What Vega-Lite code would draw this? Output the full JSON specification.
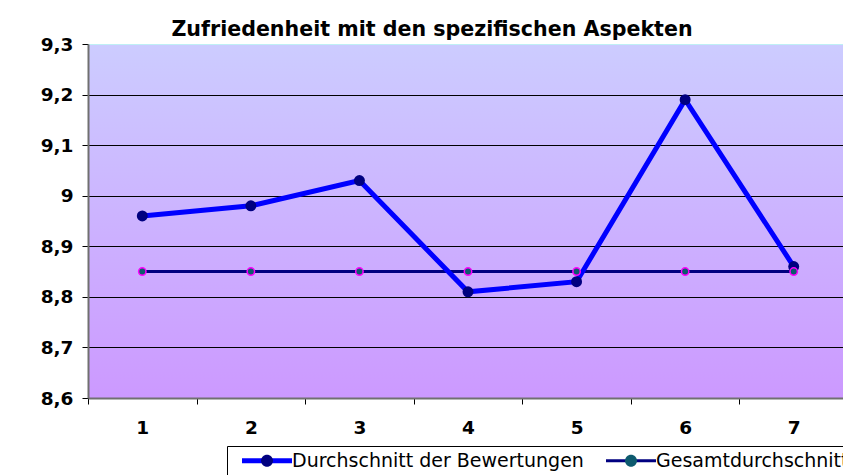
{
  "$schema": "https://vega.github.io/schema/vega-lite/v6.json",
  "width": 760,
  "height": 354,
  "autosize": {"type": "none"},
  "padding": {"left": 88, "top": 44, "right": 0, "bottom": 80},
  "background": "white",
  "title": {
    "text": "Zufriedenheit mit den spezifischen Aspekten",
    "font": "DejaVu Sans",
    "fontSize": 20.6,
    "fontWeight": "bold",
    "color": "black",
    "anchor": "middle",
    "dx": -36,
    "dy": 29,
    "offset": 7,
    "baseline": "alphabetic"
  },
  "config": {
    "view": {
      "fill": {
        "gradient": "linear",
        "x1": 0, "y1": 0, "x2": 0, "y2": 1,
        "stops": [
          {"offset": 0, "color": "#ccccff"},
          {"offset": 1, "color": "#cc99ff"}
        ]
      },
      "stroke": "#bfeff5"
    }
  },
  "data": {
    "values": [
      {"aspekt": 1, "reihe": "Durchschnitt der Bewertungen", "wert": 8.96},
      {"aspekt": 2, "reihe": "Durchschnitt der Bewertungen", "wert": 8.98},
      {"aspekt": 3, "reihe": "Durchschnitt der Bewertungen", "wert": 9.03},
      {"aspekt": 4, "reihe": "Durchschnitt der Bewertungen", "wert": 8.81},
      {"aspekt": 5, "reihe": "Durchschnitt der Bewertungen", "wert": 8.83},
      {"aspekt": 6, "reihe": "Durchschnitt der Bewertungen", "wert": 9.19},
      {"aspekt": 7, "reihe": "Durchschnitt der Bewertungen", "wert": 8.86},
      {"aspekt": 1, "reihe": "Gesamtdurchschnitt", "wert": 8.85},
      {"aspekt": 2, "reihe": "Gesamtdurchschnitt", "wert": 8.85},
      {"aspekt": 3, "reihe": "Gesamtdurchschnitt", "wert": 8.85},
      {"aspekt": 4, "reihe": "Gesamtdurchschnitt", "wert": 8.85},
      {"aspekt": 5, "reihe": "Gesamtdurchschnitt", "wert": 8.85},
      {"aspekt": 6, "reihe": "Gesamtdurchschnitt", "wert": 8.85},
      {"aspekt": 7, "reihe": "Gesamtdurchschnitt", "wert": 8.85}
    ]
  },
  "encoding": {
    "x": {
      "field": "aspekt",
      "type": "ordinal",
      "scale": {"type": "band", "paddingInner": 0, "paddingOuter": 0},
      "axis": {
        "title": null,
        "labelAngle": 0,
        "labelFont": "DejaVu Sans",
        "labelFontSize": 18.5,
        "labelFontWeight": "bold",
        "labelColor": "black",
        "labelPadding": 14,
        "tickBand": "extent",
        "tickSize": 6,
        "tickColor": "black",
        "domainColor": "#707070",
        "domainWidth": 2,
        "grid": false
      }
    },
    "y": {
      "field": "wert",
      "type": "quantitative",
      "scale": {"domain": [8.6, 9.3], "nice": false, "zero": false},
      "axis": {
        "title": null,
        "values": [8.6, 8.7, 8.8, 8.9, 9.0, 9.1, 9.2, 9.3],
        "labelExpr": "replace(format(datum.value, '.1~f'), '.', ',')",
        "labelFont": "DejaVu Sans",
        "labelFontSize": 18.5,
        "labelFontWeight": "bold",
        "labelColor": "black",
        "labelPadding": 9,
        "tickSize": 6,
        "tickColor": "black",
        "domainColor": "#707070",
        "domainWidth": 2,
        "grid": true,
        "gridColor": {"condition": {"test": "datum.value >= 9.29", "value": "transparent"}, "value": "black"},
        "gridWidth": 1,
        "gridOpacity": 1
      }
    }
  },
  "layer": [
    {
      "transform": [{"filter": "datum.reihe == 'Gesamtdurchschnitt'"}],
      "mark": {"type": "line", "strokeWidth": 3},
      "encoding": {
        "color": {
          "field": "reihe",
          "type": "nominal",
          "scale": {"domain": ["Durchschnitt der Bewertungen", "Gesamtdurchschnitt"], "range": ["#0000ff", "#000080"]},
          "legend": {
            "orient": "none",
            "legendX": 139,
            "legendY": 402,
            "direction": "horizontal",
            "title": null,
            "strokeColor": "black",
            "padding": 5,
            "symbolType": "M0.067,0H6.733",
            "symbolSize": 225,
            "symbolStrokeWidth": 4,
            "labelFont": "DejaVu Sans",
            "labelFontSize": 19,
            "labelColor": "black",
            "labelLimit": 0,
            "labelOffset": 41,
            "columnPadding": 12,
            "encode": {"symbols": {"update": {"strokeWidth": {"signal": "datum.value == 'Gesamtdurchschnitt' ? 3 : 5"}}}}
          }
        }
      }
    },
    {
      "transform": [{"filter": "datum.reihe == 'Durchschnitt der Bewertungen'"}],
      "mark": {"type": "line", "strokeWidth": 5},
      "encoding": {
        "color": {"field": "reihe", "type": "nominal"}
      }
    },
    {
      "transform": [{"filter": "datum.reihe == 'Durchschnitt der Bewertungen'"}],
      "mark": {"type": "point", "filled": true, "size": 120, "opacity": 1, "strokeWidth": 0},
      "encoding": {
        "fill": {
          "field": "reihe",
          "type": "nominal",
          "scale": {"range": ["#000080", "#0d5a6e"]},
          "legend": {
            "orient": "none",
            "legendX": 139,
            "legendY": 402,
            "direction": "horizontal",
            "title": null,
            "padding": 5,
            "symbolType": "M4.2,0A0.8,0.8,0,1,1,2.6,0A0.8,0.8,0,1,1,4.2,0Z",
            "symbolSize": 225,
            "labelFont": "DejaVu Sans",
            "labelFontSize": 19,
            "labelColor": "transparent",
            "labelLimit": 0,
            "labelOffset": 41,
            "columnPadding": 12,
            "encode": {"symbols": {"update": {
              "shape": {"signal": "datum.value == 'Gesamtdurchschnitt' ? 'M3.867,0A0.467,0.467,0,1,1,2.933,0A0.467,0.467,0,1,1,3.867,0Z' : 'M4.2,0A0.8,0.8,0,1,1,2.6,0A0.8,0.8,0,1,1,4.2,0Z'"},
              "stroke": {"signal": "datum.value == 'Gesamtdurchschnitt' ? '#ff00ff' : '#000080'"},
              "strokeWidth": {"signal": "datum.value == 'Gesamtdurchschnitt' ? 1.5 : 0"},
              "opacity": {"value": 1}
            }}}
          }
        }
      }
    },
    {
      "transform": [{"filter": "datum.reihe == 'Gesamtdurchschnitt'"}],
      "mark": {"type": "point", "filled": true, "size": 55, "opacity": 1, "stroke": "#ff00ff", "strokeWidth": 1.5},
      "encoding": {
        "fill": {"field": "reihe", "type": "nominal"}
      }
    }
  ]
}
